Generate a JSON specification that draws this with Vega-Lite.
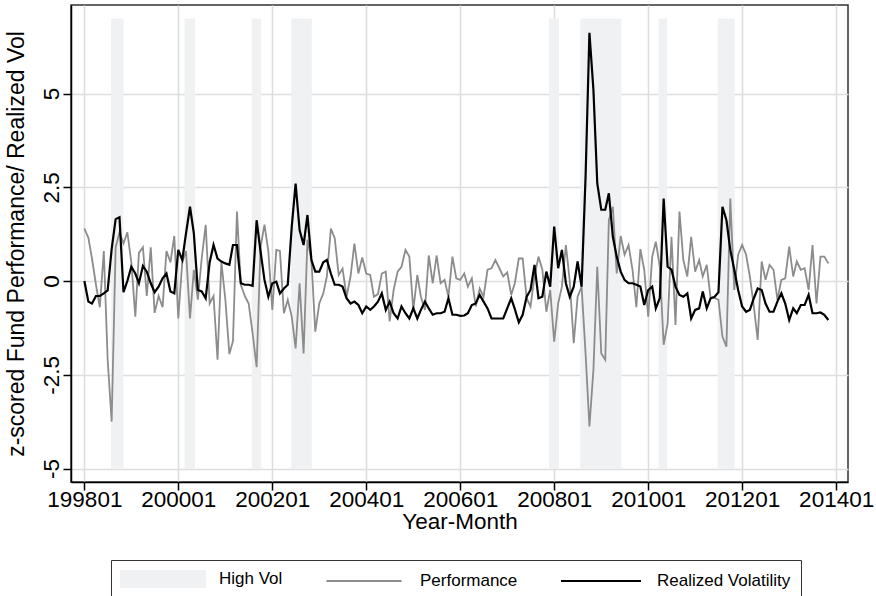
{
  "$schema": "https://vega.github.io/schema/vega-lite/v6.json",
  "width": 777,
  "height": 477,
  "autosize": {"type": "none"},
  "padding": {"left": 71, "top": 5, "right": 28, "bottom": 114},
  "background": "white",
  "config": {
    "font": "Liberation Sans",
    "view": {"stroke": "#333333", "strokeWidth": 1.5},
    "axis": {
      "labelFont": "Liberation Sans",
      "titleFont": "Liberation Sans",
      "labelColor": "#000000",
      "titleColor": "#000000",
      "domainColor": "#000000",
      "tickColor": "#000000",
      "gridColor": "#dedede",
      "gridWidth": 1.6,
      "domainWidth": 1.5,
      "tickWidth": 1.5,
      "tickSize": 8,
      "titleFontWeight": "normal",
      "labelFontSize": 22.5,
      "titleFontSize": 22.5
    },
    "legend": {
      "orient": "none",
      "legendX": 40,
      "legendY": 555,
      "direction": "horizontal",
      "columns": 3,
      "strokeColor": "#333333",
      "fillColor": "#ffffff",
      "padding": 10,
      "labelFont": "Liberation Sans",
      "labelFontSize": 17,
      "labelColor": "#000000",
      "labelOffset": 47,
      "columnPadding": 39,
      "symbolSize": 256,
      "symbolOffset": 33,
      "symbolStrokeWidth": 2
    }
  },
  "datasets": {
    "bands": [
      {"start": "1998-07-28", "end": "1998-11-01"},
      {"start": "2000-02-19", "end": "2000-05-10"},
      {"start": "2001-07-25", "end": "2001-10-07"},
      {"start": "2002-05-28", "end": "2002-11-04"},
      {"start": "2007-11-22", "end": "2008-02-07"},
      {"start": "2008-07-22", "end": "2009-06-07"},
      {"start": "2010-03-22", "end": "2010-05-28"},
      {"start": "2011-06-25", "end": "2011-11-04"}
    ],
    "series": [
      {"date":"1998-01","perf":1.4,"vol":0.0},
      {"date":"1998-02","perf":1.15,"vol":-0.55},
      {"date":"1998-03","perf":0.6,"vol":-0.6},
      {"date":"1998-04","perf":-0.1,"vol":-0.4},
      {"date":"1998-05","perf":-0.7,"vol":-0.4},
      {"date":"1998-06","perf":0.8,"vol":-0.33},
      {"date":"1998-07","perf":-2.1,"vol":-0.25},
      {"date":"1998-08","perf":-3.75,"vol":0.85},
      {"date":"1998-09","perf":0.9,"vol":1.65},
      {"date":"1998-10","perf":1.3,"vol":1.7},
      {"date":"1998-11","perf":1.0,"vol":-0.3},
      {"date":"1998-12","perf":1.3,"vol":0.0},
      {"date":"1999-01","perf":0.5,"vol":0.38},
      {"date":"1999-02","perf":-0.95,"vol":0.2},
      {"date":"1999-03","perf":0.75,"vol":-0.06},
      {"date":"1999-04","perf":0.9,"vol":0.4},
      {"date":"1999-05","perf":-0.4,"vol":0.25},
      {"date":"1999-06","perf":0.9,"vol":-0.06},
      {"date":"1999-07","perf":-0.85,"vol":-0.3},
      {"date":"1999-08","perf":-0.4,"vol":-0.15},
      {"date":"1999-09","perf":-0.7,"vol":0.07},
      {"date":"1999-10","perf":0.8,"vol":0.2},
      {"date":"1999-11","perf":0.5,"vol":-0.28},
      {"date":"1999-12","perf":1.2,"vol":-0.33},
      {"date":"2000-01","perf":-1.0,"vol":0.83},
      {"date":"2000-02","perf":0.5,"vol":0.56},
      {"date":"2000-03","perf":0.8,"vol":1.27},
      {"date":"2000-04","perf":-1.0,"vol":1.98},
      {"date":"2000-05","perf":0.3,"vol":1.27},
      {"date":"2000-06","perf":-0.5,"vol":-0.24},
      {"date":"2000-07","perf":0.6,"vol":-0.28},
      {"date":"2000-08","perf":1.5,"vol":-0.46},
      {"date":"2000-09","perf":-0.6,"vol":0.5},
      {"date":"2000-10","perf":-0.4,"vol":0.96},
      {"date":"2000-11","perf":-2.1,"vol":0.6},
      {"date":"2000-12","perf":0.5,"vol":0.52},
      {"date":"2001-01","perf":-0.5,"vol":0.47},
      {"date":"2001-02","perf":-1.95,"vol":0.43},
      {"date":"2001-03","perf":-1.6,"vol":0.96},
      {"date":"2001-04","perf":1.85,"vol":0.96},
      {"date":"2001-05","perf":-0.1,"vol":-0.06},
      {"date":"2001-06","perf":-0.4,"vol":-0.1},
      {"date":"2001-07","perf":-0.6,"vol":-0.1},
      {"date":"2001-08","perf":-1.4,"vol":-0.13},
      {"date":"2001-09","perf":-2.3,"vol":1.62},
      {"date":"2001-10","perf":0.9,"vol":0.8},
      {"date":"2001-11","perf":1.5,"vol":0.03},
      {"date":"2001-12","perf":0.8,"vol":-0.42},
      {"date":"2002-01","perf":-0.77,"vol":-0.06},
      {"date":"2002-02","perf":0.83,"vol":-0.02},
      {"date":"2002-03","perf":0.8,"vol":-0.33},
      {"date":"2002-04","perf":-0.86,"vol":-0.2},
      {"date":"2002-05","perf":-0.5,"vol":-0.1},
      {"date":"2002-06","perf":-0.95,"vol":1.45},
      {"date":"2002-07","perf":-1.8,"vol":2.6},
      {"date":"2002-08","perf":-0.06,"vol":1.36},
      {"date":"2002-09","perf":-1.93,"vol":0.96},
      {"date":"2002-10","perf":1.1,"vol":1.76},
      {"date":"2002-11","perf":0.56,"vol":0.56},
      {"date":"2002-12","perf":-1.35,"vol":0.25},
      {"date":"2003-01","perf":-0.6,"vol":0.25},
      {"date":"2003-02","perf":-0.33,"vol":0.5},
      {"date":"2003-03","perf":0.12,"vol":0.56},
      {"date":"2003-04","perf":1.4,"vol":0.2},
      {"date":"2003-05","perf":1.14,"vol":-0.1},
      {"date":"2003-06","perf":0.16,"vol":-0.1},
      {"date":"2003-07","perf":0.33,"vol":-0.15},
      {"date":"2003-08","perf":-0.42,"vol":-0.46},
      {"date":"2003-09","perf":0.12,"vol":-0.6},
      {"date":"2003-10","perf":1.0,"vol":-0.55},
      {"date":"2003-11","perf":0.2,"vol":-0.64},
      {"date":"2003-12","perf":0.63,"vol":-0.86},
      {"date":"2004-01","perf":0.2,"vol":-0.68},
      {"date":"2004-02","perf":0.16,"vol":-0.77},
      {"date":"2004-03","perf":-0.42,"vol":-0.68},
      {"date":"2004-04","perf":-0.35,"vol":-0.55},
      {"date":"2004-05","perf":0.2,"vol":-0.33},
      {"date":"2004-06","perf":0.25,"vol":-0.77},
      {"date":"2004-07","perf":-1.08,"vol":-0.55},
      {"date":"2004-08","perf":-0.24,"vol":-0.86},
      {"date":"2004-09","perf":0.25,"vol":-1.0},
      {"date":"2004-10","perf":0.38,"vol":-0.68},
      {"date":"2004-11","perf":0.83,"vol":-0.86},
      {"date":"2004-12","perf":0.65,"vol":-1.0},
      {"date":"2005-01","perf":-0.77,"vol":-0.73},
      {"date":"2005-02","perf":0.16,"vol":-1.0},
      {"date":"2005-03","perf":-0.42,"vol":-0.77},
      {"date":"2005-04","perf":-0.77,"vol":-0.55},
      {"date":"2005-05","perf":0.68,"vol":-0.73},
      {"date":"2005-06","perf":-0.06,"vol":-0.9},
      {"date":"2005-07","perf":0.68,"vol":-0.86},
      {"date":"2005-08","perf":-0.06,"vol":-0.86},
      {"date":"2005-09","perf":0.03,"vol":-0.82},
      {"date":"2005-10","perf":-0.42,"vol":-0.46},
      {"date":"2005-11","perf":0.65,"vol":-0.9},
      {"date":"2005-12","perf":0.07,"vol":-0.9},
      {"date":"2006-01","perf":0.03,"vol":-0.93},
      {"date":"2006-02","perf":0.2,"vol":-0.92},
      {"date":"2006-03","perf":-0.15,"vol":-0.86},
      {"date":"2006-04","perf":0.07,"vol":-0.64},
      {"date":"2006-05","perf":-0.68,"vol":-0.6},
      {"date":"2006-06","perf":-0.2,"vol":-0.37},
      {"date":"2006-07","perf":-0.42,"vol":-0.55},
      {"date":"2006-08","perf":0.3,"vol":-0.73},
      {"date":"2006-09","perf":0.34,"vol":-1.0},
      {"date":"2006-10","perf":0.56,"vol":-1.0},
      {"date":"2006-11","perf":0.34,"vol":-1.0},
      {"date":"2006-12","perf":0.12,"vol":-1.0},
      {"date":"2007-01","perf":0.23,"vol":-0.73},
      {"date":"2007-02","perf":-0.37,"vol":-0.46},
      {"date":"2007-03","perf":-0.06,"vol":-0.75},
      {"date":"2007-04","perf":0.6,"vol":-1.1},
      {"date":"2007-05","perf":0.6,"vol":-0.9},
      {"date":"2007-06","perf":-0.46,"vol":-0.42},
      {"date":"2007-07","perf":-0.68,"vol":-0.24},
      {"date":"2007-08","perf":0.12,"vol":0.43},
      {"date":"2007-09","perf":0.65,"vol":-0.46},
      {"date":"2007-10","perf":0.3,"vol":-0.42},
      {"date":"2007-11","perf":-0.82,"vol":0.25},
      {"date":"2007-12","perf":-0.24,"vol":-0.15},
      {"date":"2008-01","perf":-1.62,"vol":1.45},
      {"date":"2008-02","perf":-0.6,"vol":0.34},
      {"date":"2008-03","perf":-0.15,"vol":0.83},
      {"date":"2008-04","perf":0.96,"vol":-0.06},
      {"date":"2008-05","perf":0.0,"vol":-0.42},
      {"date":"2008-06","perf":-1.66,"vol":-0.15},
      {"date":"2008-07","perf":-0.42,"vol":0.52},
      {"date":"2008-08","perf":-0.15,"vol":-0.15},
      {"date":"2008-09","perf":-1.93,"vol":2.78},
      {"date":"2008-10","perf":-3.88,"vol":6.62},
      {"date":"2008-11","perf":-2.37,"vol":5.1},
      {"date":"2008-12","perf":0.38,"vol":2.6},
      {"date":"2009-01","perf":-1.93,"vol":1.9},
      {"date":"2009-02","perf":-2.1,"vol":1.9},
      {"date":"2009-03","perf":1.63,"vol":2.34},
      {"date":"2009-04","perf":1.98,"vol":1.18},
      {"date":"2009-05","perf":0.2,"vol":0.65},
      {"date":"2009-06","perf":1.2,"vol":0.25},
      {"date":"2009-07","perf":0.7,"vol":0.03},
      {"date":"2009-08","perf":0.96,"vol":-0.06},
      {"date":"2009-09","perf":0.3,"vol":-0.06},
      {"date":"2009-10","perf":-0.7,"vol":-0.1},
      {"date":"2009-11","perf":0.85,"vol":-0.15},
      {"date":"2009-12","perf":0.3,"vol":-0.64},
      {"date":"2010-01","perf":-0.95,"vol":-0.24},
      {"date":"2010-02","perf":0.65,"vol":-0.15},
      {"date":"2010-03","perf":1.05,"vol":-0.73},
      {"date":"2010-04","perf":0.38,"vol":-0.46},
      {"date":"2010-05","perf":-1.7,"vol":2.2},
      {"date":"2010-06","perf":-1.13,"vol":0.38},
      {"date":"2010-07","perf":1.18,"vol":0.3},
      {"date":"2010-08","perf":-1.17,"vol":-0.15},
      {"date":"2010-09","perf":1.85,"vol":-0.37},
      {"date":"2010-10","perf":0.56,"vol":-0.42},
      {"date":"2010-11","perf":0.12,"vol":-0.33},
      {"date":"2010-12","perf":1.18,"vol":-1.0},
      {"date":"2011-01","perf":0.25,"vol":-0.77},
      {"date":"2011-02","perf":0.56,"vol":-0.73},
      {"date":"2011-03","perf":0.12,"vol":-0.28},
      {"date":"2011-04","perf":0.43,"vol":-0.73},
      {"date":"2011-05","perf":-0.46,"vol":-0.46},
      {"date":"2011-06","perf":-0.45,"vol":-0.42},
      {"date":"2011-07","perf":-0.5,"vol":-0.3},
      {"date":"2011-08","perf":-1.48,"vol":1.98},
      {"date":"2011-09","perf":-1.75,"vol":1.62},
      {"date":"2011-10","perf":2.2,"vol":0.83},
      {"date":"2011-11","perf":-0.24,"vol":0.3},
      {"date":"2011-12","perf":0.7,"vol":-0.24},
      {"date":"2012-01","perf":0.96,"vol":-0.68},
      {"date":"2012-02","perf":0.7,"vol":-0.82},
      {"date":"2012-03","perf":0.12,"vol":-0.77},
      {"date":"2012-04","perf":-0.68,"vol":-0.46},
      {"date":"2012-05","perf":-1.57,"vol":-0.2},
      {"date":"2012-06","perf":0.52,"vol":-0.24},
      {"date":"2012-07","perf":0.03,"vol":-0.6},
      {"date":"2012-08","perf":0.43,"vol":-0.82},
      {"date":"2012-09","perf":0.3,"vol":-0.82},
      {"date":"2012-10","perf":-0.5,"vol":-0.55},
      {"date":"2012-11","perf":0.03,"vol":-0.33},
      {"date":"2012-12","perf":0.07,"vol":-0.6},
      {"date":"2013-01","perf":0.92,"vol":-1.04},
      {"date":"2013-02","perf":0.12,"vol":-0.73},
      {"date":"2013-03","perf":0.52,"vol":-0.86},
      {"date":"2013-04","perf":0.3,"vol":-0.64},
      {"date":"2013-05","perf":0.34,"vol":-0.64},
      {"date":"2013-06","perf":-0.24,"vol":-0.37},
      {"date":"2013-07","perf":0.96,"vol":-0.86},
      {"date":"2013-08","perf":-0.6,"vol":-0.86},
      {"date":"2013-09","perf":0.65,"vol":-0.84},
      {"date":"2013-10","perf":0.65,"vol":-0.9},
      {"date":"2013-11","perf":0.47,"vol":-1.04}
    ]
  },
  "layer": [
    {
      "data": {"name": "bands"},
      "mark": {"type": "rect"},
      "encoding": {
        "x": {"field": "start", "type": "temporal", "title": "Year-Month",
              "scale": {"type": "utc", "domain": [{"year": 1997, "month": 9, "date": 19, "utc": true}, {"year": 2014, "month": 4, "date": 3, "utc": true}]},
              "axis": {"values": [
                {"year": 1998, "month": 1, "date": 1, "utc": true},
                {"year": 2000, "month": 1, "date": 1, "utc": true},
                {"year": 2002, "month": 1, "date": 1, "utc": true},
                {"year": 2004, "month": 1, "date": 1, "utc": true},
                {"year": 2006, "month": 1, "date": 1, "utc": true},
                {"year": 2008, "month": 1, "date": 1, "utc": true},
                {"year": 2010, "month": 1, "date": 1, "utc": true},
                {"year": 2012, "month": 1, "date": 1, "utc": true},
                {"year": 2014, "month": 1, "date": 1, "utc": true}],
                "format": "%Y%m", "labelPadding": -2, "titlePadding": 0, "labelFlush": false, "labelOverlap": false, "grid": true}},
        "x2": {"field": "end"},
        "y": {"datum": -5, "type": "quantitative", "title": "z-scored Fund Performance/ Realized Vol",
              "scale": {"domain": [-5.36, 7.36], "nice": false, "zero": false},
              "axis": {"values": [-5, -2.5, 0, 2.5, 5], "labelExpr": "'' + datum.value", "labelAngle": -90, "labelAlign": "center", "labelBaseline": "alphabetic", "labelPadding": 5, "titlePadding": 12, "titleFontSize": 23, "grid": true}},
        "y2": {"datum": 7},
        "color": {"datum": "High Vol", "type": "nominal",
                  "scale": {"domain": ["High Vol", "Performance", "Realized Volatility"], "range": ["#f0f1f3", "#8c8c8c", "#000000"]},
                  "legend": {"title": null,
                    "encode": {"symbols": {"update": {
                      "shape": {"signal": "datum.value === 'High Vol' ? 'M-5.25,-1H5.25V1H-5.25Z' : (datum.value === 'Performance' ? 'M-4.69,0H4.69' : 'M-5,0H5')"},
                      "fill": {"signal": "datum.value === 'High Vol' ? '#f0f1f3' : 'transparent'"},
                      "stroke": {"signal": "datum.value === 'High Vol' ? 'transparent' : (datum.value === 'Performance' ? '#8c8c8c' : '#000000')"},
                      "opacity": {"value": 1}
                    }}}}}
      }
    },
    {
      "data": {"name": "series"},
      "mark": {"type": "line", "strokeWidth": 1.8},
      "encoding": {
        "x": {"field": "date", "type": "temporal", "title": "Year-Month"},
        "y": {"field": "perf", "type": "quantitative", "title": "z-scored Fund Performance/ Realized Vol"},
        "color": {"datum": "Performance", "type": "nominal"}
      }
    },
    {
      "data": {"name": "series"},
      "mark": {"type": "line", "strokeWidth": 2.2},
      "encoding": {
        "x": {"field": "date", "type": "temporal", "title": "Year-Month"},
        "y": {"field": "vol", "type": "quantitative", "title": "z-scored Fund Performance/ Realized Vol"},
        "color": {"datum": "Realized Volatility", "type": "nominal"}
      }
    }
  ]
}
